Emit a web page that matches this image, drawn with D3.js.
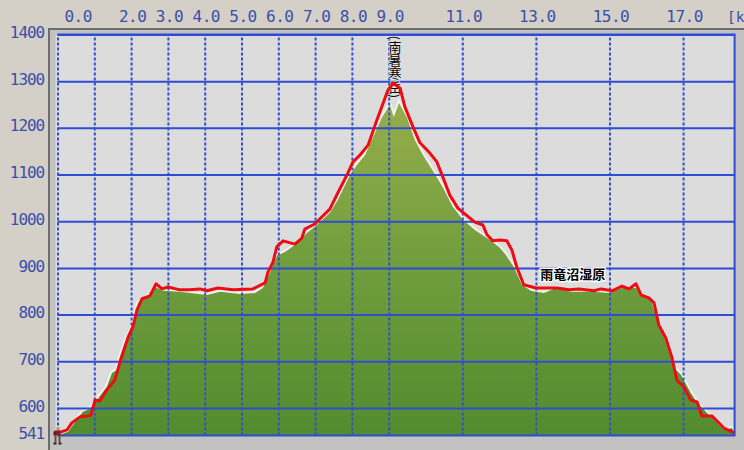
<!DOCTYPE html>
<html><head><meta charset="utf-8">
<style>html,body{margin:0;padding:0;background:#d4d0c8;overflow:hidden}svg{display:block}</style>
<script src="https://d3js.org/d3.v7.min.js"></script></head>
<body><svg id="c" width="744" height="450"></svg>
<script>
const xGrid=[0,1,2,3,4,5,6,7,8,9,11,13,15,17];
const xLabelPos=[0.52,2,3,4,5,6,7,8,9,11,13,15,17];
const xLabels=["0.0","2.0","3.0","4.0","5.0","6.0","7.0","8.0","9.0","11.0","13.0","15.0","17.0"];
const yGrid=[600,700,800,900,1000,1100,1200,1300,1400];
const yLabelVals=[541,600,700,800,900,1000,1100,1200,1300,1400];
const groundKm=[0,.29,.48,.69,.88,1.07,1.34,1.48,1.62,1.70,1.83,2.05,2.19,2.24,2.51,2.65,2.87,3.33,4.06,4.42,4.96,5.37,5.58,5.77,5.96,6.18,6.45,6.78,7.05,7.40,7.62,7.95,8.14,8.36,8.54,8.82,9.03,9.14,9.28,9.50,9.71,9.93,10.20,10.47,10.74,11.02,11.34,11.75,12.02,12.18,12.40,12.62,12.86,13.22,13.54,13.95,14.58,14.98,15.34,15.72,15.88,16.13,16.29,16.48,16.75,16.94,17.21,17.38,17.65,17.92,18.11,18.33,18.41];
const groundM=[541,549,570,592,598,617,645,675,682,709,739,778,825,827,842,859,851,849,842,849,844,846,857,889,926,934,949,975,992,1018,1046,1099,1121,1142,1174,1223,1249,1223,1253,1221,1174,1142,1108,1073,1031,1003,981,960,943,928,902,864,851,846,857,849,849,846,857,857,842,831,789,752,686,671,632,611,589,568,553,557,543];
const trackKm=[.04,.26,.39,.61,.83,.91,1.02,1.15,1.34,1.56,1.70,1.92,2.05,2.16,2.30,2.51,2.68,2.84,3.00,3.33,3.60,3.87,4.06,4.36,4.77,5.31,5.64,5.72,5.85,5.96,6.13,6.45,6.64,6.72,6.99,7.40,7.62,7.89,8.03,8.22,8.44,8.68,8.98,9.12,9.31,9.44,9.66,9.85,10.12,10.31,10.45,10.66,10.88,11.34,11.56,11.67,11.83,12.02,12.21,12.35,12.48,12.67,13.00,13.57,13.90,14.17,14.58,14.77,15.07,15.34,15.53,15.72,15.86,16.07,16.21,16.34,16.53,16.70,16.83,17.02,17.21,17.38,17.51,17.78,18.11,18.38];
const trackM=[547,553,568,581,583,585,617,615,639,660,699,752,774,810,834,840,866,855,859,853,853,855,851,857,853,855,868,891,911,945,958,951,964,983,994,1026,1061,1103,1127,1142,1163,1217,1281,1296,1285,1245,1202,1168,1146,1127,1099,1056,1028,998,992,971,958,960,958,938,902,864,857,857,853,855,851,855,851,861,855,866,842,836,825,778,750,707,660,645,617,613,583,583,557,547];
const unitLabel="[k";
const placeKm=[9.17,14.0];
const placeM=[1398,885];
const placeNames=["(南暑寒岳)","雨竜沼湿原"];

const svg=d3.select("#c");
const x=d3.scaleLinear().domain([0,18.4]).range([57.5,734.6]);
const y=d3.scaleLinear().domain([541,1400]).range([435.5,34.5]);
const BLUE="#2f4cd6", TXT="#3c4fa8";

svg.append("rect").attr("x",48).attr("y",28).attr("width",696).attr("height",422).attr("fill","#c2c2c2");
svg.append("path").attr("d","M49 450V29H744").attr("fill","none").attr("stroke","#6e6e68").attr("stroke-width",2);
svg.append("rect").attr("x",x(0)-2).attr("y",y(1400)).attr("width",x(18.4)-x(0)+2).attr("height",y(541)-y(1400)).attr("fill","#dcdcdc");

const defs=svg.append("defs");
const g=defs.append("linearGradient").attr("id","gr").attr("gradientUnits","userSpaceOnUse")
  .attr("x1",0).attr("x2",0).attr("y1",y(1300)).attr("y2",y(541));
g.append("stop").attr("offset",0).attr("stop-color","#9ab04c");
g.append("stop").attr("offset",.5).attr("stop-color","#729e3e");
g.append("stop").attr("offset",1).attr("stop-color","#528c2e");
defs.append("clipPath").attr("id","plot").append("rect").attr("x",x(0)-2).attr("y",y(1400)).attr("width",x(18.4)-x(0)+2).attr("height",y(541)-y(1400));

const ground=groundKm.map((k,i)=>[k,groundM[i]]);
const track=trackKm.map((k,i)=>[k,trackM[i]]);
const plot=svg.append("g").attr("clip-path","url(#plot)");
const area=d3.area().x(d=>x(d[0])).y0(y(541)).y1(d=>y(d[1]));
plot.append("path").datum(ground).attr("d",area).attr("fill","url(#gr)").attr("stroke","#f1f1ee").attr("stroke-width",4).attr("paint-order","stroke");

const gy=svg.append("g").attr("transform",`translate(${x(0)},0)`)
  .call(d3.axisLeft(y).tickValues(yGrid).tickSize(-(x(18.4)-x(0))).tickFormat(""));
gy.select(".domain").remove();
gy.selectAll("line").attr("stroke",BLUE).attr("stroke-width",2);
const gx=svg.append("g").attr("transform",`translate(0,${y(541)})`)
  .call(d3.axisTop(x).tickValues(xGrid).tickSize(y(541)-y(1400)).tickFormat(""));
gx.select(".domain").remove();
gx.selectAll("line").attr("stroke","#3350cc").attr("stroke-width",2).attr("stroke-dasharray","3 2");
svg.append("path").attr("d",`M${x(0)} ${y(1400)}H${x(18.4)}V${y(541)}H${x(0)}`).attr("fill","none").attr("stroke",BLUE).attr("stroke-width",2);

const cjk="'Noto Sans CJK JP',sans-serif";
svg.append("text").attr("x",x(placeKm[0])).attr("y",y(placeM[0])).text(placeNames[0])
  .attr("font-family",cjk).attr("font-size",13).attr("fill","#000")
  .style("writing-mode","vertical-rl").style("letter-spacing","0.4px")
  .attr("stroke","#e8e8e8").attr("stroke-width",1.2).attr("paint-order","stroke");

svg.append("path").datum(track).attr("fill","none").attr("stroke","#ee0c14").attr("stroke-width",3).attr("stroke-linejoin","round")
  .attr("d",d3.line().x(d=>x(d[0])).y(d=>y(d[1])));

const font="'DejaVu Sans Mono',monospace";
const ax=svg.append("g").attr("transform","translate(1,22)")
  .call(d3.axisTop(x).tickValues(xLabelPos).tickSize(0).tickPadding(0).tickFormat((d,i)=>xLabels[i]));
ax.select(".domain").remove();
ax.selectAll("text").attr("font-family",font).attr("font-size",16).attr("fill",TXT).attr("dy",0).style("letter-spacing","-0.5px");
const ay=svg.append("g").attr("transform","translate(44,-2)")
  .call(d3.axisLeft(y).tickValues(yLabelVals).tickSize(0).tickPadding(0).tickFormat(d3.format("d")));
ay.select(".domain").remove();
ay.selectAll("text").attr("font-family",font).attr("font-size",16).attr("fill",TXT).style("letter-spacing","-1.1px");
svg.append("text").attr("x",727).attr("y",22).text(unitLabel).attr("font-family",font).attr("font-size",14.5).attr("fill",TXT);

svg.append("text").attr("x",x(placeKm[1])).attr("y",y(placeM[1])).attr("dy","0.35em").attr("text-anchor","middle").text(placeNames[1])
  .attr("font-family",cjk).attr("font-size",13).attr("font-weight",700).attr("fill","#000")
  .attr("stroke","#fff").attr("stroke-width",2.5).attr("paint-order","stroke");

const h=svg.append("g").attr("transform",`translate(${x(0)},${y(541)})`);
[["#d08a4a",-1,-8,3,3],["#8a1a2a",-3,-5,6,5],["#5a1520",-4,-4,2,4],["#6a5030",-3,0,2,7],["#6a5030",1,0,2,7],["#222",-4,7,3,2],["#222",1,7,3,2]]
 .forEach(p=>h.append("rect").attr("fill",p[0]).attr("x",p[1]).attr("y",p[2]).attr("width",p[3]).attr("height",p[4]));
</script></body></html>
